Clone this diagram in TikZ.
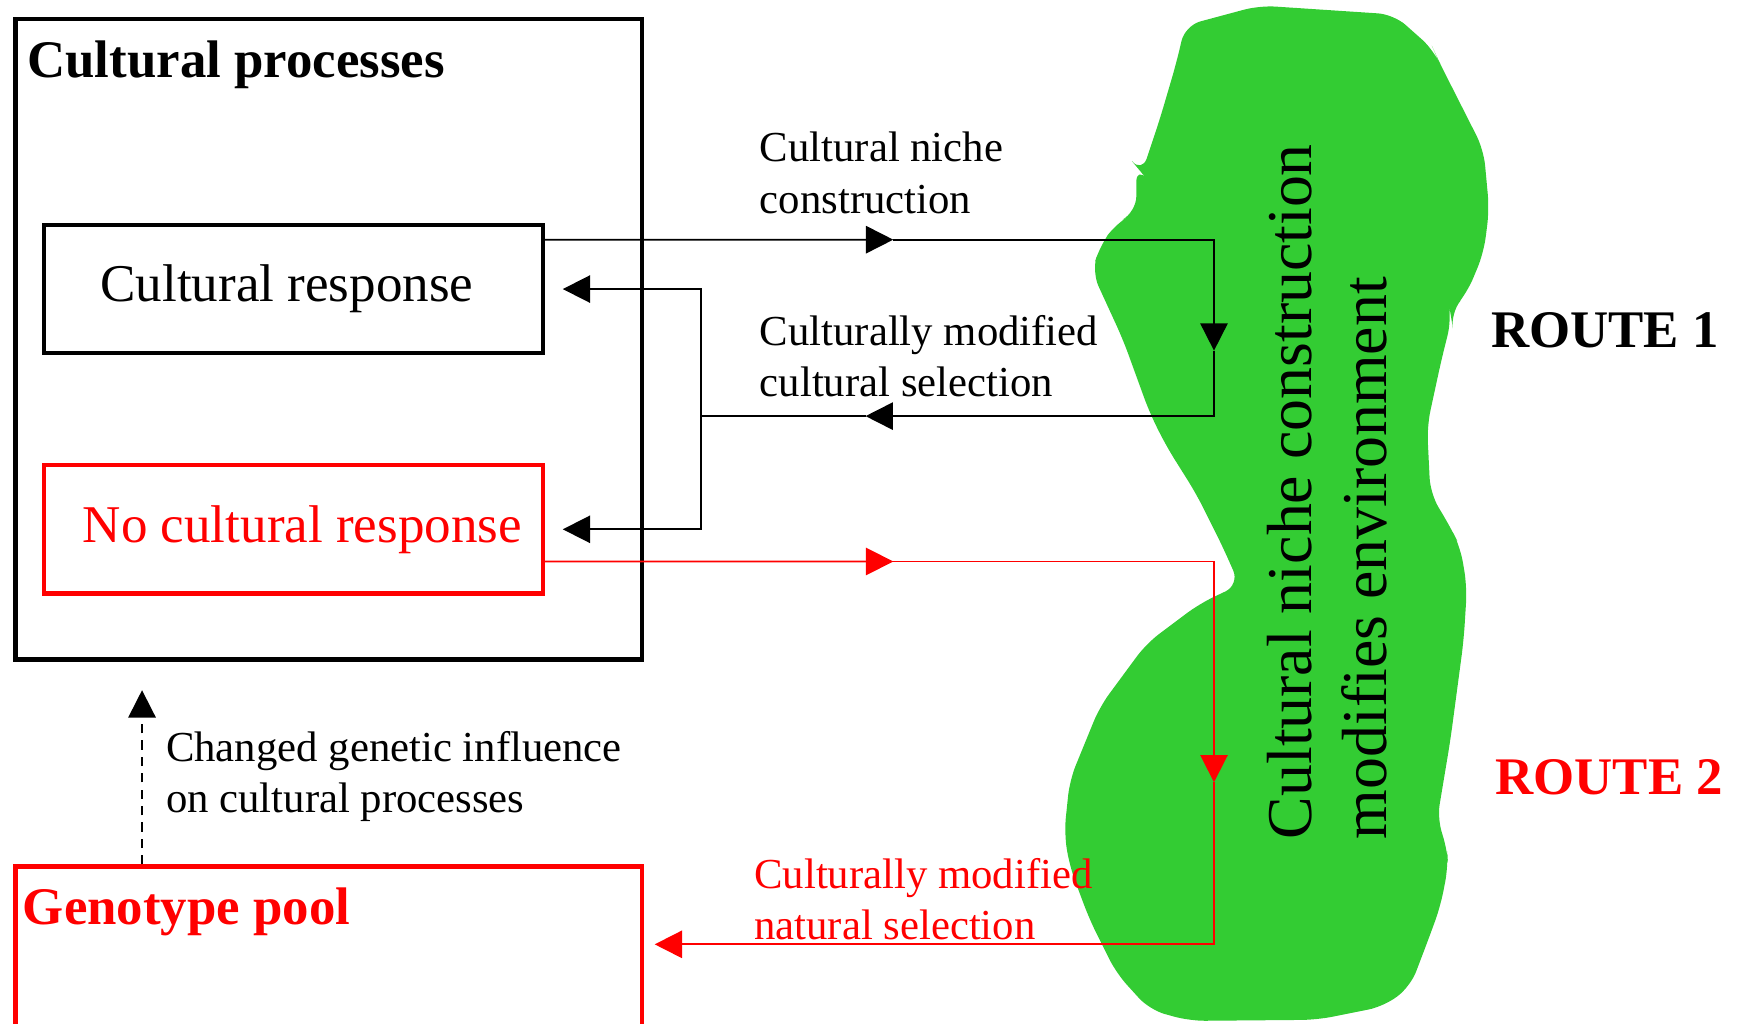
\documentclass[tikz,border=0pt]{standalone}
\usepackage{fontspec}
\setmainfont{Liberation Serif}
\usetikzlibrary{arrows.meta,calc}
\definecolor{blobgreen}{RGB}{51,204,51}
\begin{document}
\begin{tikzpicture}[x=0.01cm,y=-0.01cm,
  bigbold/.style={font=\bfseries\fontsize{13.54}{16}\selectfont,inner sep=0pt},
  boxfont/.style={font=\fontsize{13.6}{16}\selectfont},
  lbl/.style={font=\fontsize{10.95}{13.09}\selectfont,align=left,inner sep=0pt,anchor=base west},
  frame/.style={draw,line width=1.15pt,inner sep=0pt},
  conn/.style={line width=0.45pt},
  tipA/.style={-{Triangle[length=7pt,width=7pt]}},
]
\useasboundingbox (0,0) rectangle (1568,922);
\clip (0,0) rectangle (1568,922);
% green blob
\fill[blobgreen,rounded corners=4] (1068,23) -- (1135,5) -- (1256,13) -- (1292,45) -- (1296,54) -- (1337,135) -- (1342,189) -- (1337,228) -- (1322,264) -- (1307,282) -- (1308,288) -- (1299,324) -- (1286,384) -- (1289,445) -- (1307,475) -- (1316,493) -- (1322,529) -- (1319,577) -- (1307,667) -- (1295,739) -- (1304,763) -- (1305,781) -- (1298,817) -- (1287,847) -- (1271,889) -- (1247,907) -- (1187,919) -- (1072,920) -- (1036,910) -- (1006,877) -- (982,829) -- (964,781) -- (959,751) -- (964,703) -- (991,637) -- (1033,580) -- (1081,544) -- (1117,527) -- (1102,493) -- (1078,445) -- (1051,402) -- (1036,372) -- (1012,306) -- (984,245) -- (991,222) -- (1006,201) -- (1024,191) -- (1024,150) -- (1029,156) -- (1045,108) -- (1060,57) -- cycle;
% boxes
\node[frame,minimum width=5.64cm,minimum height=5.77cm,anchor=north west] (outer) at (12,15) {};
\node[bigbold,anchor=base west] (title) at (24,70) {Cultural processes};
\node[frame,boxfont,minimum width=4.49cm,minimum height=1.15cm] (cr) at (264.5,260.5) {Cultural response\hspace*{0.12cm}};
\node[frame,boxfont,draw=red,text=red,minimum width=4.49cm,minimum height=1.16cm] (ncr) at (264.5,477) {\hspace*{0.16cm}No cultural response};
\node[frame,draw=red,minimum width=5.64cm,minimum height=1.6cm,anchor=north west] (gp) at (12,779) {};
\node[bigbold,text=red,anchor=base west] (gptext) at (20,833) {Genotype pool};
% labels (anchor at baseline of the last line)
\node[lbl] (l1) at (684,192) {Cultural niche\\construction};
\node[lbl] (l2) at (684,357) {Culturally modified\\cultural selection};
\node[lbl] (l3) at (149,732) {Changed genetic influence\\on cultural processes};
\node[lbl,text=red] (l4) at (679,847) {Culturally modified\\natural selection};
\node[bigbold,anchor=base west] (r1) at (1343,313) {ROUTE 1};
\node[bigbold,anchor=base west,text=red] (r2) at (1347,716) {ROUTE 2};
\node[rotate=90,anchor=west,align=left,inner sep=0pt,font=\fontsize{16.36}{19.35}\selectfont] (niche) at (1196,757) {Cultural niche construction\\modifies environment};
% black route
\coordinate (t1) at (805,216);
\coordinate (k1) at (1094,216);
\coordinate (t2) at (1094,316);
\coordinate (k2) at (1094,375);
\coordinate (t3) at (780,375);
\coordinate (j) at (632,375);
\draw[conn,tipA] ([yshift=0.445cm]cr.east) -- (t1);
\draw[conn,tipA] (t1) -- (k1) -- (t2);
\draw[conn,tipA] (t2) -- (k2) -- (t3);
\draw[conn] (t3) -- (j);
\draw[conn,tipA] (j) |- ([xshift=0.16cm]cr.east);
\draw[conn,tipA] (j) |- ([xshift=0.16cm]ncr.east);
% red route
\coordinate (rt1) at (805,506);
\coordinate (rk1) at (1094,506);
\coordinate (rt2) at (1094,705);
\coordinate (rk2) at (1094,851);
\coordinate (rt3) at (590,851);
\draw[conn,red,tipA] ([yshift=-0.29cm]ncr.east) -- (rt1);
\draw[conn,red,tipA] (rt1) -- (rk1) -- (rt2);
\draw[conn,red,tipA] (rt2) -- (rk2) -- (rt3);
% dashed
\coordinate (dtip) at (128,622);
\draw[conn,tipA,dash pattern=on 2.4pt off 1.8pt] (gp.north west -| dtip) -- (dtip);
\end{tikzpicture}
\end{document}
